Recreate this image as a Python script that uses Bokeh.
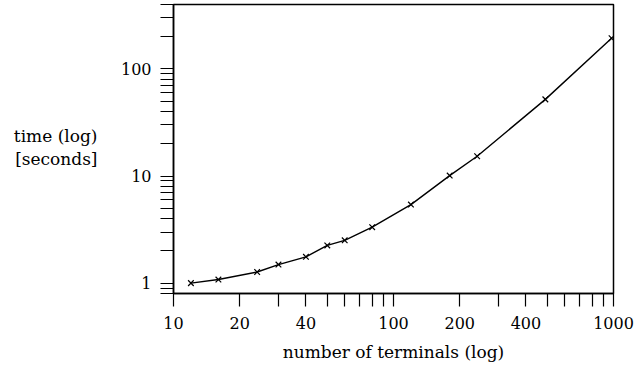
from bokeh.plotting import figure
from bokeh.models import FixedTicker, NumeralTickFormatter, Range1d, LinearAxis, LinearScale
from bokeh.embed import file_html
from bokeh.resources import INLINE

# ---- data ----
terminals = [12, 16, 24, 30, 40, 50, 60, 80, 120, 180, 240, 490, 980]
time_s = [1.0, 1.08, 1.27, 1.49, 1.76, 2.25, 2.51, 3.33, 5.41, 10.1, 15.3, 52, 194]

x_major = [10, 20, 40, 100, 200, 400, 1000]
x_minor = [30, 50, 60, 70, 80, 90, 300, 500, 600, 700, 800, 900]
y_major = [1, 10, 100]
y_minor = [0.8, 0.9, 2, 3, 4, 5, 6, 7, 8, 9,
           20, 30, 40, 50, 60, 70, 80, 90, 200, 300, 400]

x_title = "number of terminals (log)"
y_title_lines = ["time (log)", "[seconds]"]

X_START, X_END = 10, 1000
Y_START, Y_END = 0.8, 400

FONT = "DejaVu Serif"
FW, FH = 440, 289
BL, BR, BT, BB = 173, 25, 4, 75

p = figure(
    x_axis_type="log", y_axis_type="log",
    x_range=Range1d(X_START, X_END), y_range=Range1d(Y_START, Y_END),
    frame_width=FW, frame_height=FH,
    min_border_left=BL, min_border_right=BR, min_border_top=BT, min_border_bottom=BB,
    output_backend="svg", toolbar_location=None,
)

p.xgrid.visible = False
p.ygrid.visible = False
p.outline_line_color = "black"
p.outline_line_width = 1.5
p.background_fill_color = "white"
p.border_fill_color = "white"

for ax, major, minor in ((p.xaxis[0], x_major, x_minor), (p.yaxis[0], y_major, y_minor)):
    ax.ticker = FixedTicker(ticks=major, minor_ticks=minor)
    ax.formatter = NumeralTickFormatter(format="0")
    ax.axis_line_color = "black"
    ax.axis_line_width = 1.5
    ax.major_tick_line_color = "black"
    ax.minor_tick_line_color = "black"
    ax.major_tick_line_width = 1.2
    ax.minor_tick_line_width = 1.2
    ax.major_tick_in = 0
    ax.minor_tick_in = 0
    ax.major_tick_out = 13
    ax.minor_tick_out = 13
    ax.major_label_text_font = FONT
    ax.major_label_text_font_size = "16px"
    ax.major_label_text_color = "black"

p.xaxis.major_label_standoff = 10
p.yaxis.major_label_standoff = 9
p.xaxis.axis_label = x_title
p.xaxis.axis_label_text_font = FONT
p.xaxis.axis_label_text_font_size = "17px"
p.xaxis.axis_label_text_font_style = "normal"
p.xaxis.axis_label_text_color = "black"
p.xaxis.axis_label_standoff = 10

p.line(terminals, time_s, line_color="black", line_width=1.4)
p.scatter(terminals, time_s, marker="x", size=8, line_color="black", line_width=1.2)

# horizontal y title: an extra, line-less axis whose two tick labels carry the text
# (linear range in frame pixels measured from the frame bottom)
p.extra_y_ranges = {"ytitle": Range1d(0, FH)}
p.extra_y_scales = {"ytitle": LinearScale()}
title_pos = [158, 135]
tax = LinearAxis(y_range_name="ytitle")
tax.ticker = FixedTicker(ticks=title_pos, minor_ticks=[])
tax.major_label_overrides = {pos: txt for pos, txt in zip(title_pos, y_title_lines)}
tax.axis_line_color = None
tax.major_tick_line_color = None
tax.minor_tick_line_color = None
tax.major_tick_out = 0
tax.major_tick_in = 0
tax.major_label_standoff = 20
tax.major_label_text_font = FONT
tax.major_label_text_font_size = "17px"
tax.major_label_text_color = "black"
p.add_layout(tax, "left")

open("out.html", "w").write(file_html(p, INLINE))
